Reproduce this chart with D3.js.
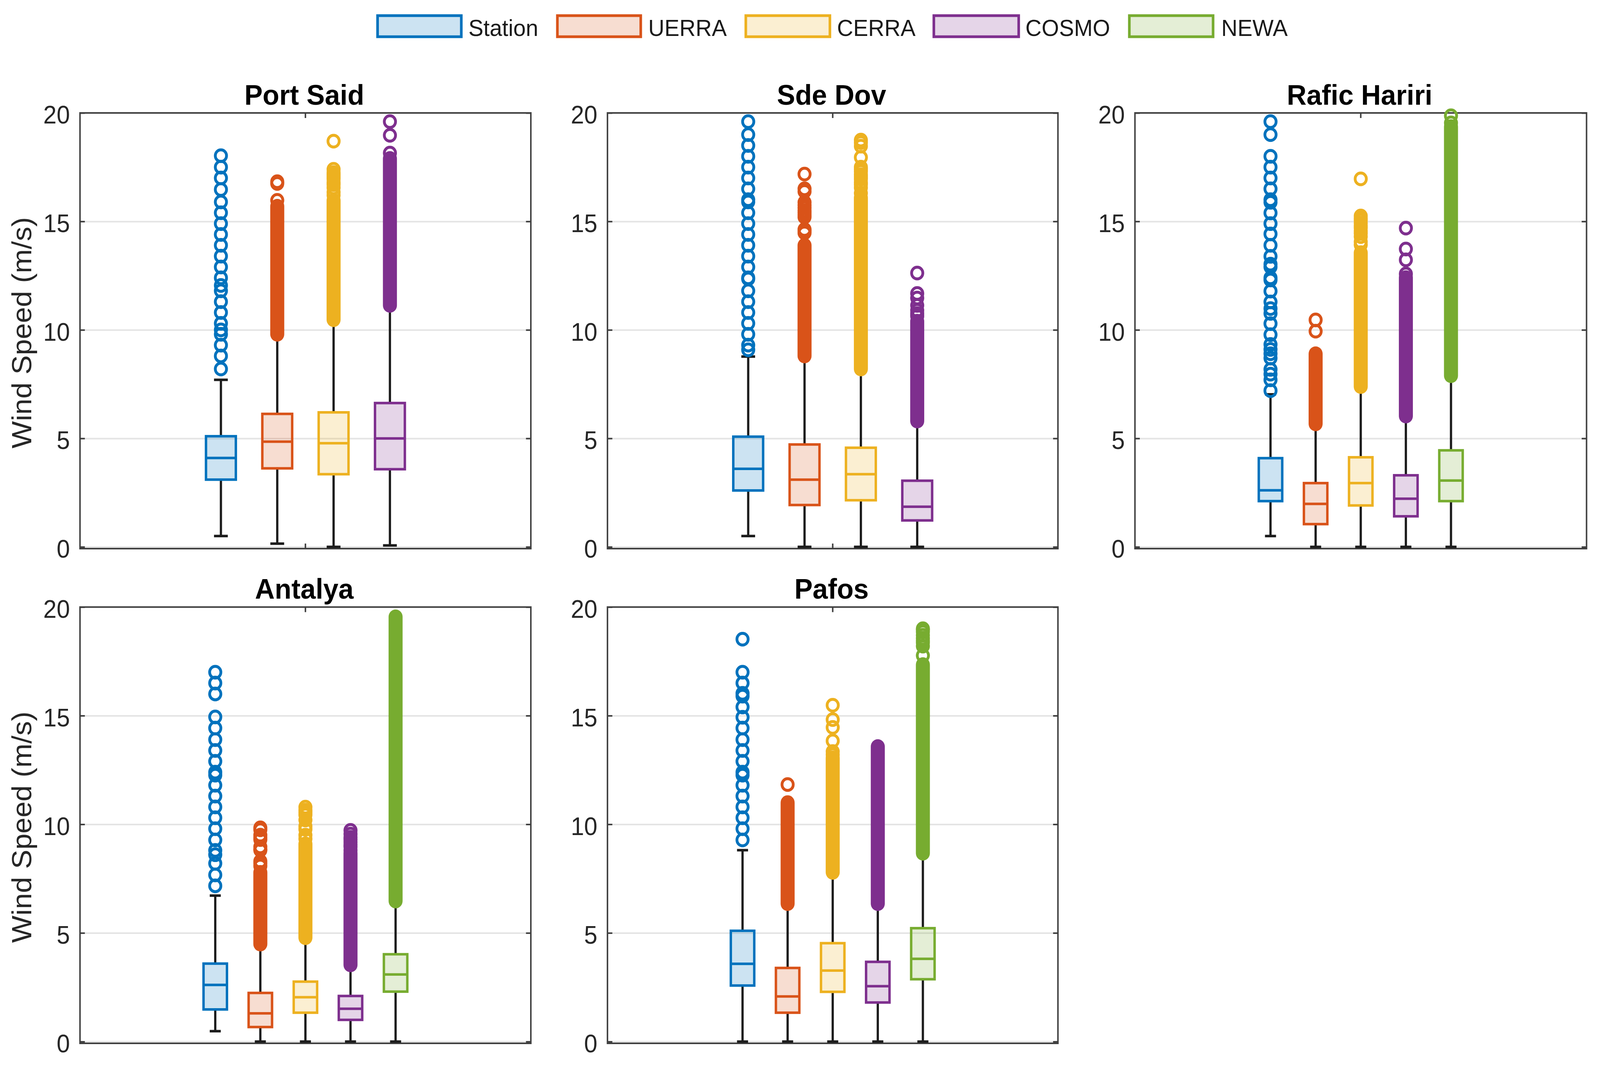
<!DOCTYPE html>
<html><head><meta charset="utf-8">
<script src="https://cdn.jsdelivr.net/npm/d3@7/dist/d3.min.js"></script>
<style>html,body{margin:0;padding:0;background:#fff;overflow:hidden}svg{display:block;width:100vw;height:100vh}text{font-family:"Liberation Sans",Arial,sans-serif}</style>
</head><body><svg id="c" viewBox="0 0 4280 2728" preserveAspectRatio="none"></svg>
<script>
// ---- data ----
const seriesNames = ["Station","UERRA","CERRA","COSMO","NEWA"];
const seriesColors = ["#0072BD","#D95319","#EDB120","#7E2F8E","#77AC30"];
const panelTitles = ["Port Said","Sde Dov","Rafic Hariri","Antalya","Pafos"];
const panelSeries = [[0,1,2,3],[0,1,2,3],[0,1,2,3,4],[0,1,2,3,4],[0,1,2,3,4]];
const yTicks = [0,5,10,15,20];
const yLabel = "Wind Speed (m/s)";

const whiskerLow = [[0.5,0.15,0,0.07],[0.5,0,0,0],[0.5,0,0,0,0],[0.48,0,0,0,0],[0,0,0,0,0]];
const q1 = [[3.1,3.62,3.35,3.58],[2.6,1.93,2.15,1.22],[2.11,1.05,1.91,1.41,2.11],[1.48,0.67,1.33,1.0,2.3],[2.58,1.33,2.29,1.8,2.87]];
const median = [[4.1,4.85,4.78,5.0],[3.6,3.1,3.35,1.85],[2.61,1.98,2.94,2.22,3.06],[2.61,1.3,2.04,1.51,3.09],[3.58,2.08,3.27,2.55,3.81]];
const q3 = [[5.1,6.13,6.2,6.63],[5.08,4.72,4.57,3.05],[4.09,2.94,4.13,3.3,4.45],[3.59,2.24,2.76,2.1,4.02],[5.1,3.39,4.53,3.67,5.22]];
const whiskerHigh = [[7.7,9.7,10.3,11.0],[8.77,8.7,8.1,5.7],[7.03,5.55,7.25,5.9,7.75],[6.72,4.4,4.65,3.4,6.35],[8.81,6.2,7.65,6.2,8.5]];

// continuous runs of overlapping outlier circles: [lowest, highest], null when the outliers are all separate
const denseRun = [
  [null,[9.8,15.7],[10.47,15.97],[11.13,17.9]],
  [null,[8.8,13.9],[8.2,16.1],[5.8,10.4]],
  [null,[5.67,8.9],[7.39,13.56],[6.03,12.41],[7.89,19.37]],
  [null,[4.49,7.79],[4.78,9.1],[3.53,8.67],[6.47,19.55]],
  [null,[6.35,11.0],[7.79,13.06],[6.35,13.58],[8.67,17.35]]
];
// individually visible outlier circles
const outliers = [
  [[8.2,8.8,9.3,9.8,10,10.3,10.8,11.3,11.8,12.05,12.4,12.9,13.4,13.9,14.4,14.9,15.4,15.9,16.47,17,17.5,18.03],
   [15.97,16.75,16.83],
   [16.2,16.35,16.55,16.7,16.8,16.95,17.05,17.15,17.25,17.4,18.7],
   [18.15,18.97,19.6]],
  [[9.08,9.3,9.8,10.3,10.8,11.3,11.8,12.35,12.4,12.9,13.4,13.9,14.4,14.9,15.4,15.9,16,16.5,17,17.5,18,18.5,19,19.6],
   [14.47,14.55,14.63,15.2,15.3,15.4,15.5,15.63,15.75,15.88,16.38,16.5,17.18],
   [16.3,16.55,16.7,16.8,16.95,17.05,17.15,17.3,17.4,17.5,17.95,18.47,18.63,18.75],
   [10.63,10.75,10.9,11.13,11.47,11.68,12.62]],
  [[7.2,7.7,7.96,8.18,8.7,8.9,9.1,9.33,9.78,10.29,10.76,10.98,11.29,11.79,12.3,12.4,12.9,13.03,13.39,13.9,14.42,14.9,15.39,15.88,16,16.5,17,17.5,18,19,19.6],
   [9.94,10.46],
   [13.92,14.06,14.3,14.45,14.56,14.7,14.8,14.92,15.05,15.14,15.25,16.96],
   [12.58,13.23,13.73,14.69],
   [19.54,19.87]],
  [[7.17,7.67,8.2,8.6,8.8,9.28,9.8,10.3,10.8,11.3,11.8,12.26,12.4,12.9,13.4,13.9,14.43,14.94,16,16.5,17],
   [8.08,8.2,8.3,8.81,8.85,8.96,9.3,9.4,9.5,9.75,9.84],
   [9.33,9.5,9.77,9.91,10.2,10.43,10.55,10.65,10.79],
   [8.8,8.96,9.05,9.18,9.3,9.4,9.55,9.72],
   []],
  [[9.28,9.8,10.3,10.8,11.3,11.8,12.26,12.4,12.9,13.4,13.9,14.43,14.93,15.4,15.9,16.03,16.5,17,18.52],
   [11.83],
   [13.2,13.35,13.84,14.46,14.82,15.48],
   [],
   [17.77,18.2,18.36,18.45,18.56,18.7,18.86,18.95,19.0]]
];

// ---- layout ----
const panelBoxes = [
  {l:214,r:1420,t:289,b:1404,step:150.7},
  {l:1625,r:2830,t:289,b:1404,step:150.7},
  {l:3036,r:4244,t:289,b:1404,step:120.7},
  {l:214,r:1420,t:1553.5,b:2670,step:120.6},
  {l:1625,r:2830,t:1553.5,b:2670,step:120.6}
];
const legendBoxes = [[1007,1237,1253],[1488,1717,1734],[1992,2223,2239],[2495,2728,2743],[3018,3248,3267]];
const yLow = -0.08, yHigh = 20;
const axisColor = "#404040", textColor = "#262626", whiskerColor = "#1c1c1c";
const strokeBox = 6.5, strokeWhisker = 6, markerR = 15, markerStroke = 7.5;

const svg = d3.select("#c");
svg.append("rect").attr("width",4280).attr("height",2728).attr("fill","#fff");

// legend
const lg = svg.append("g");
seriesNames.forEach((name,i)=>{
  const [a,b,tx] = legendBoxes[i];
  lg.append("rect").attr("x",a+3).attr("y",40).attr("width",b-a-6).attr("height",54)
    .attr("fill",seriesColors[i]).attr("fill-opacity",0.2)
    .attr("stroke",seriesColors[i]).attr("stroke-width",7);
  lg.append("text").attr("x",tx).attr("y",92).attr("font-size",60).attr("fill","#1a1a1a").text(name);
});

panelBoxes.forEach((p,pi)=>{
  const g = svg.append("g");
  const y = d3.scaleLinear().domain([yLow,yHigh]).range([p.b,p.t]);
  const cx = (p.l+p.r)/2;
  const idx = panelSeries[pi];
  const span = (idx.length-1)*p.step;
  const x = d3.scalePoint().domain(idx).range([cx-span/2,cx+span/2]);
  const boxW = p.step*(idx.length===4?0.53:0.52), capW = p.step*0.245;

  // grid
  const grid = g.append("g").attr("transform",`translate(${p.l},0)`)
    .call(d3.axisLeft(y).tickValues(yTicks).tickSize(-(p.r-p.l)).tickFormat(""));
  grid.select(".domain").remove();
  grid.selectAll("line").attr("stroke","#e4e4e4").attr("stroke-width",4);

  // frame
  g.append("rect").attr("x",p.l).attr("y",p.t).attr("width",p.r-p.l).attr("height",p.b-p.t)
    .attr("fill","none").attr("stroke",axisColor).attr("stroke-width",4);

  // y axis labels + inner ticks
  const axL = g.append("g").attr("transform",`translate(${p.l},0)`)
    .call(d3.axisLeft(y).tickValues(yTicks).tickSizeInner(-13).tickSizeOuter(0).tickPadding(25).tickFormat(d3.format("d")));
  axL.select(".domain").remove();
  axL.selectAll("line").attr("stroke",axisColor).attr("stroke-width",4);
  axL.selectAll("text").attr("font-size",64).attr("fill",textColor).attr("dy","0.42em")
    .attr("x",-27).attr("text-anchor","end").style("font-family",'"Liberation Sans",Arial,sans-serif');
  const axR = g.append("g").attr("transform",`translate(${p.r},0)`)
    .call(d3.axisRight(y).tickValues(yTicks).tickSizeInner(-13).tickSizeOuter(0).tickFormat(""));
  axR.select(".domain").remove();
  axR.selectAll("line").attr("stroke",axisColor).attr("stroke-width",4);
  [p.t,p.b].forEach((yy,k)=>{
    g.append("line").attr("x1",cx).attr("x2",cx).attr("y1",yy).attr("y2",yy+(k?-13:13))
      .attr("stroke",axisColor).attr("stroke-width",4);
  });

  // title + y label
  g.append("text").attr("x",cx-3).attr("y",p.t-21).attr("text-anchor","middle")
    .attr("font-size",73).attr("font-weight","bold").attr("fill","#000").text(panelTitles[pi]);
  if (p.l<500) {
    g.append("text").attr("transform",`translate(84,${(p.t+p.b)/2+5}) rotate(-90)`).attr("text-anchor","middle")
      .attr("font-size",74).attr("fill",textColor).text(yLabel);
  }

  // boxes
  idx.forEach((si,k)=>{
    const c = seriesColors[si], xc = x(si);
    const run = denseRun[pi][k];
    const s = g.append("g");
    s.append("line").attr("x1",xc).attr("x2",xc).attr("y1",y(q3[pi][k])).attr("y2",y(whiskerHigh[pi][k]))
      .attr("stroke",whiskerColor).attr("stroke-width",strokeWhisker);
    s.append("line").attr("x1",xc).attr("x2",xc).attr("y1",y(q1[pi][k])).attr("y2",y(whiskerLow[pi][k]))
      .attr("stroke",whiskerColor).attr("stroke-width",strokeWhisker);
    (run ? [whiskerLow[pi][k]] : [whiskerLow[pi][k],whiskerHigh[pi][k]]).forEach(v=>{
      s.append("line").attr("x1",xc-capW/2).attr("x2",xc+capW/2).attr("y1",y(v)).attr("y2",y(v))
        .attr("stroke",whiskerColor).attr("stroke-width",6.5);
    });
    s.append("rect").attr("x",xc-boxW/2).attr("width",boxW)
      .attr("y",y(q3[pi][k])).attr("height",y(q1[pi][k])-y(q3[pi][k]))
      .attr("fill",c).attr("fill-opacity",0.2).attr("stroke",c).attr("stroke-width",strokeBox);
    s.append("line").attr("x1",xc-boxW/2).attr("x2",xc+boxW/2).attr("y1",y(median[pi][k])).attr("y2",y(median[pi][k]))
      .attr("stroke",c).attr("stroke-width",strokeBox);
    if (run) {
      s.append("line").attr("x1",xc).attr("x2",xc).attr("y1",y(run[0])).attr("y2",y(run[1]))
        .attr("stroke",c).attr("stroke-width",2*markerR+markerStroke).attr("stroke-linecap","round");
    }
    s.selectAll("circle").data(outliers[pi][k]).join("circle")
      .attr("cx",xc).attr("cy",d=>y(d)).attr("r",markerR)
      .attr("fill","none").attr("stroke",c).attr("stroke-width",markerStroke);
  });
});
</script></body></html>
